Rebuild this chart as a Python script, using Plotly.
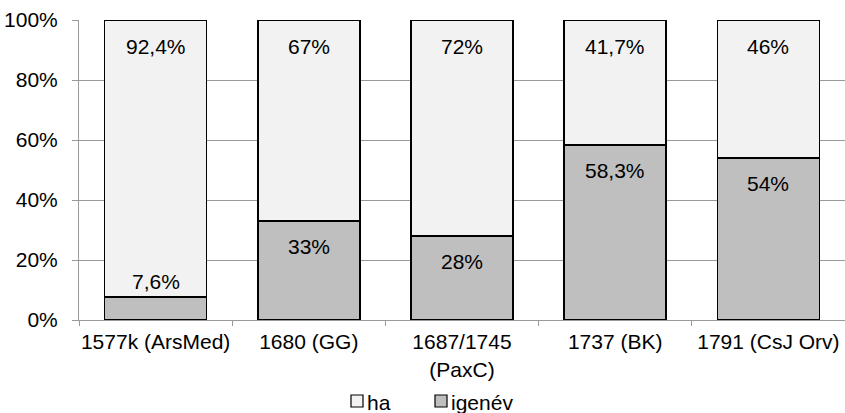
import plotly.graph_objects as go

categories = ["1577k (ArsMed)", "1680 (GG)", "1687/1745<br>(PaxC)", "1737 (BK)", "1791 (CsJ Orv)"]
igenev = [7.6, 33, 28, 58.3, 54]
ha = [92.4, 67, 72, 41.7, 46]
y_ticks = [0, 20, 40, 60, 80, 100]
y_ticktext = ["0%", "20%", "40%", "60%", "80%", "100%"]
series_names = ["ha", "igenév"]
series_colors = {"ha": "#f2f2f2", "igenév": "#bfbfbf"}

FONT = "Liberation Sans, Arial, sans-serif"
FS = 21
GRID = "#9a9a9a"

def fmt(v):
    return f"{v:g}".replace(".", ",") + "%"

fig = go.Figure()
fig.add_trace(go.Bar(
    name="igenév", x=categories, y=igenev, showlegend=False,
    marker=dict(color=series_colors["igenév"], line=dict(color="black", width=1.5)),
))
fig.add_trace(go.Bar(
    name="ha", x=categories, y=ha, showlegend=False,
    marker=dict(color=series_colors["ha"], line=dict(color="black", width=1.5)),
))

annotations = []
for c, b, t in zip(categories, igenev, ha):
    if b < 15:
        annotations.append(dict(x=c, y=b, text=fmt(b), showarrow=False,
                                yanchor="bottom", yshift=2, xref="x", yref="y"))
    else:
        annotations.append(dict(x=c, y=b, text=fmt(b), showarrow=False,
                                yanchor="top", yshift=-12, xref="x", yref="y"))
    annotations.append(dict(x=c, y=b + t, text=fmt(t), showarrow=False,
                            yanchor="top", yshift=-13, xref="x", yref="y"))

# custom legend (plot area: x 79..845, y 20..320 px)
W, H = 766.0, 300.0
def px_x(p):
    return (p - 79) / W
def px_y(p):
    return (320 - p) / H

shapes = []
legend_pos = [("ha", 351), ("igenév", 435)]
LY = 401
for name, x0 in legend_pos:
    shapes.append(dict(type="rect", xref="paper", yref="paper",
                       x0=px_x(x0), x1=px_x(x0 + 12), y0=px_y(LY + 6), y1=px_y(LY - 6),
                       fillcolor=series_colors[name], line=dict(color="black", width=1.2)))
    annotations.append(dict(x=px_x(x0 + 15), y=px_y(LY + 1), xref="paper", yref="paper",
                            text=name, showarrow=False, xanchor="left", yanchor="middle",
                            borderpad=0))

fig.update_layout(
    width=845, height=413,
    barmode="stack", bargap=0.334,
    margin=dict(l=79, r=0, t=20, b=93),
    paper_bgcolor="white", plot_bgcolor="white",
    font=dict(family=FONT, size=FS, color="black"),
    annotations=annotations,
    shapes=shapes,
    showlegend=False,
    yaxis=dict(range=[0, 100], tickvals=y_ticks, ticktext=y_ticktext,
               showgrid=True, gridcolor=GRID, gridwidth=1,
               showline=True, linecolor=GRID, linewidth=1,
               ticks="outside", ticklen=6, tickcolor=GRID, zeroline=False,
               automargin=False, ticklabelstandoff=10),
    xaxis=dict(showline=True, linecolor=GRID, linewidth=1, tickangle=0,
               ticks="outside", ticklen=5, tickcolor=GRID, tickson="boundaries",
               showgrid=False, automargin=False, ticklabelstandoff=3),
)

fig.write_html("out.html", config={"displayModeBar": False},
               post_script="document.body.style.margin='0px';")
